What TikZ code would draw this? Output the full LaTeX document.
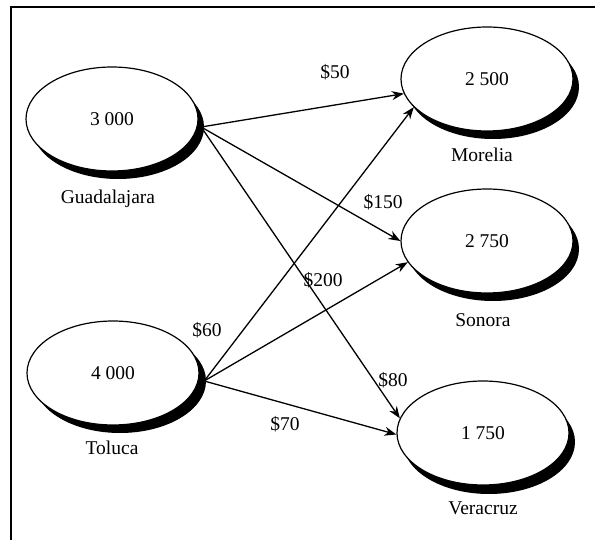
\documentclass[tikz,border=0pt]{standalone}
\usepackage{fontspec}
\setmainfont{Liberation Serif}
\usetikzlibrary{arrows.meta,shapes.geometric}
\begin{document}
\begin{tikzpicture}[x=1pt,y=-1pt,
  font=\fontsize{19.5}{23}\selectfont,
  city/.style={ellipse,draw,line width=1.2pt,fill=white,minimum width=172pt,minimum height=104pt,inner sep=0pt},
  shadowell/.style={ellipse,fill=black,minimum width=172pt,minimum height=104pt,inner sep=0pt},
  flow/.style={line width=1.3pt,-{Stealth[length=12pt,width=9pt]}}]
\useasboundingbox (0,0) rectangle (595,540);
\draw[line width=2pt] (11,540) -- (11,7) -- (595,7);
% shadows
\node[shadowell] (Gs) at (118,127) {};
\node[shadowell] (Ms) at (493,87) {};
\node[shadowell] (Ss) at (493,249) {};
\node[shadowell] (Ts) at (120,381) {};
\node[shadowell] (Vs) at (489,442) {};
% cities
\node[city] (G) at (112,119) {3 000};
\node[city] (M) at (487,79) {2 500};
\node[city] (S) at (487,241) {2 750};
\node[city] (T) at (113,373) {4 000};
\node[city] (V) at (483,433) {1 750};
% names
\node (gn) at (108,199) {Guadalajara};
\node (mn) at (482,155) {Morelia};
\node (sn) at (483,320) {Sonora};
\node (tn) at (112,448) {Toluca};
\node (vn) at (483,508) {Veracruz};
% flows
\draw[flow] ([xshift=-3pt]Gs.east) -- (M.190);
\draw[flow] ([xshift=-3pt]Gs.east) -- (S.180);
\draw[flow] ([xshift=-3pt]Gs.east) -- (V.170);
\draw[flow] ([xshift=-2pt]Ts.east) -- (M.201);
\draw[flow] ([xshift=-2pt]Ts.east) -- (S.195);
\draw[flow] ([xshift=-2pt]Ts.east) -- (V.181);
% costs
\node (c50) at (335,72) {\$50};
\node (c150) at (383,202) {\$150};
\node (c200) at (323,280) {\$200};
\node (c60) at (207,330) {\$60};
\node (c80) at (393,380) {\$80};
\node (c70) at (285,424) {\$70};
\end{tikzpicture}
\end{document}
